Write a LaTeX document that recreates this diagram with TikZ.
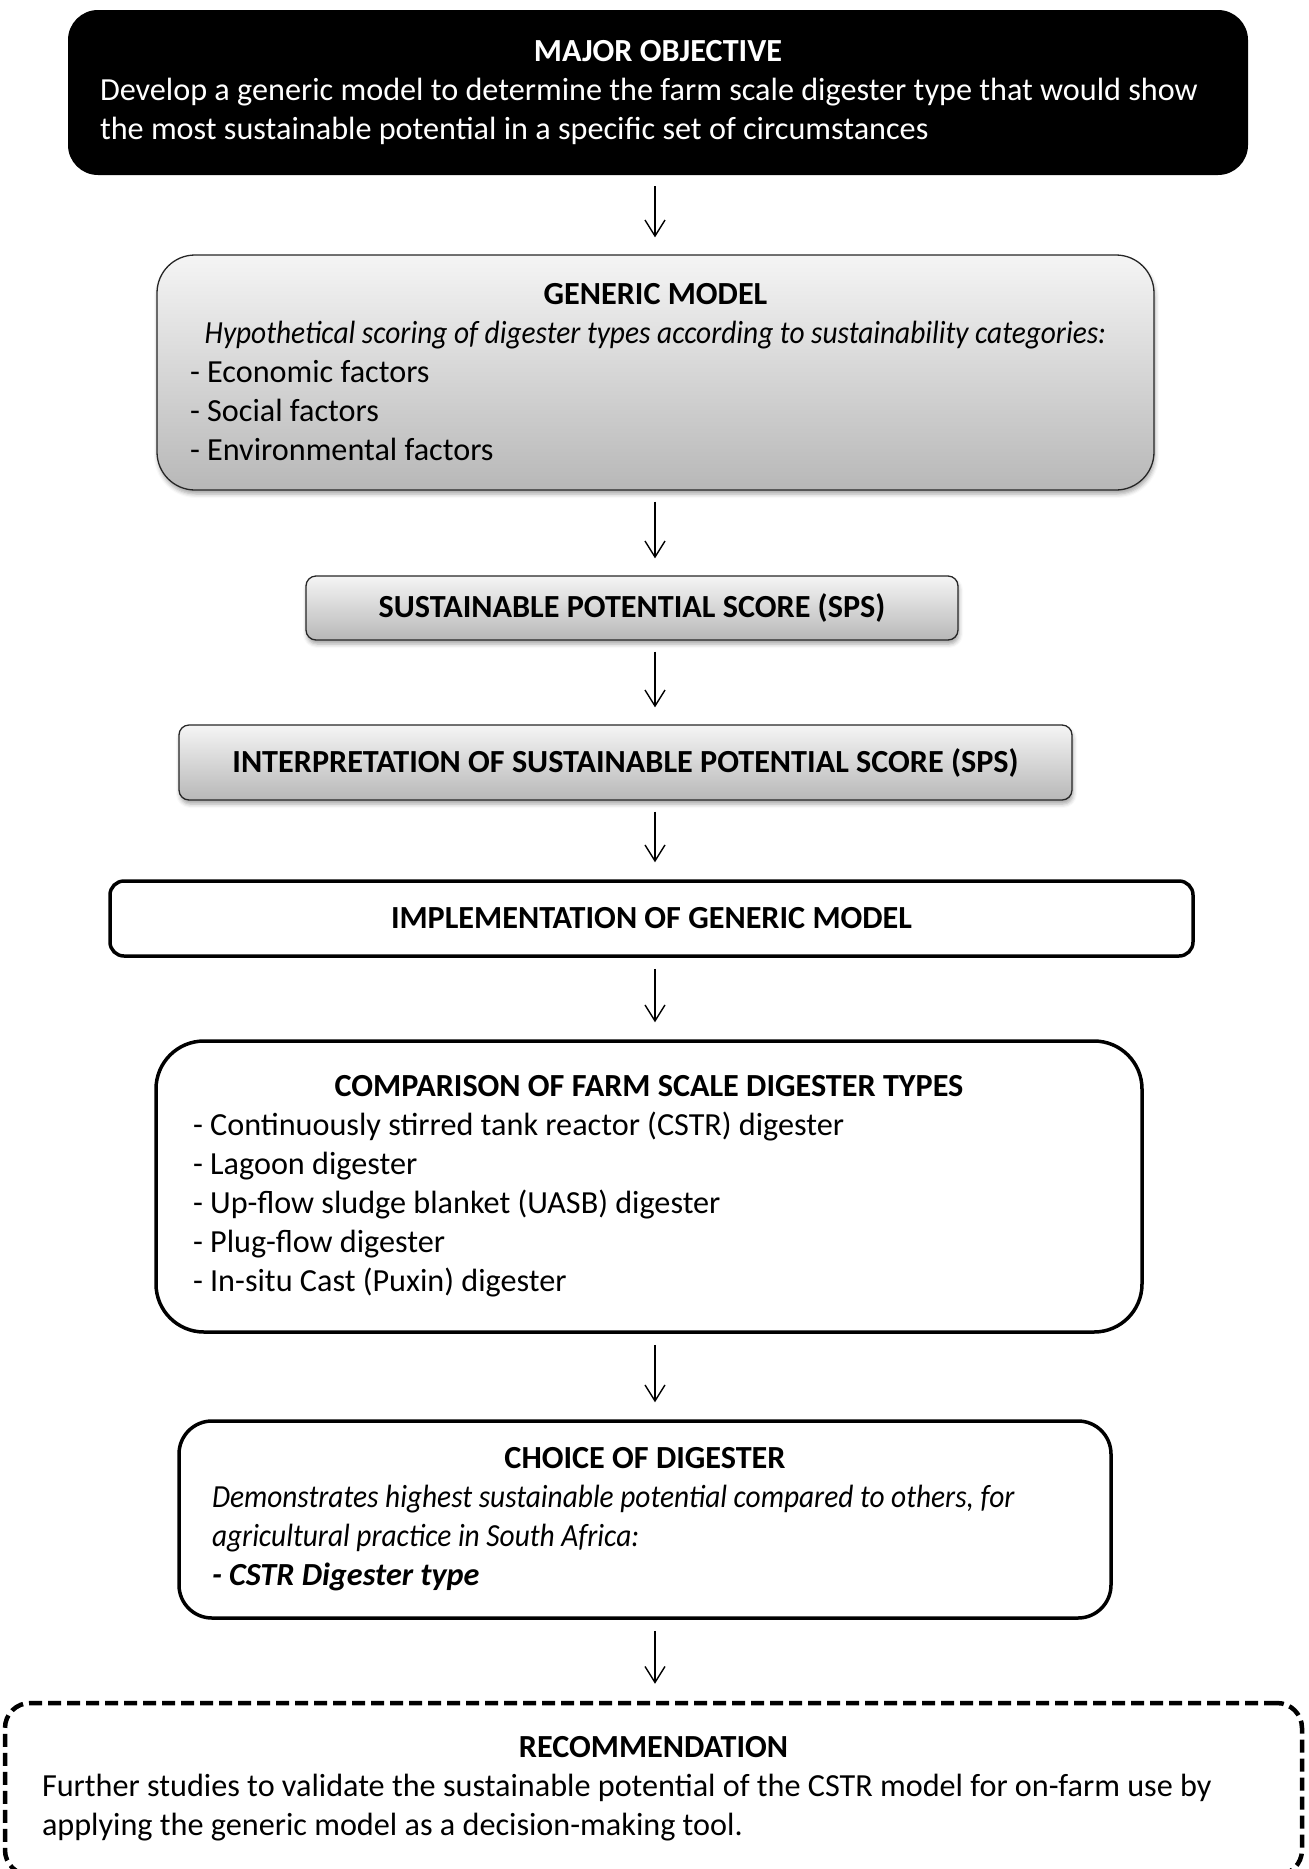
\documentclass[tikz,border=0pt]{standalone}
\usepackage{fontspec}
\setmainfont{Carlito}
\usepackage{graphicx}
\usepackage{tikz}
\usetikzlibrary{arrows.meta,shadows.blur}
\newcommand{\slant}[1]{\scalebox{0.912}[1]{\textit{#1}}}
\tikzstyle{every node} = [font=\fontsize{32.2}{39}\selectfont, inner ysep=0pt]
\tikzstyle{objective} = [fill=black, text=white, rectangle, rounded corners=30pt, inner xsep=32pt, minimum height=165pt]
\tikzstyle{graybox} = [draw=black!85, line width=1.3pt, top color=black!4, bottom color=black!28, rectangle, blur shadow={shadow xshift=1pt, shadow yshift=-4pt, shadow blur radius=4pt, shadow opacity=35}]
\tikzstyle{whitebox} = [draw=black, line width=3.5pt, fill=white, rectangle]
\tikzstyle{dashbox} = [draw=black, line width=4.5pt, dash pattern=on 13pt off 6pt, rectangle, rounded corners=25pt, inner xsep=37pt, minimum height=172pt]
\tikzstyle{flow} = [line width=1.4pt, -{Straight Barb[length=16pt, width=20pt, line width=1.4pt]}, shorten <=11pt, shorten >=17pt]

\begin{document}
\begin{tikzpicture}[x=1pt, y=-1pt]
	\useasboundingbox (0,0) rectangle (1309,1869);
	\coordinate (axis) at (655,0);
	\node[objective](obj) at (658,92.5){
		\begin{minipage}{1116pt}
			\centering\textbf{MAJOR OBJECTIVE}\par
			\raggedright Develop a generic model to determine the farm scale digester type that would show\\
			the most sustainable potential in a specific set of circumstances
		\end{minipage}};
	\node[graybox, rounded corners=38pt, inner xsep=33pt, minimum height=235pt](gen) at (655.5,372.5){
		\begin{minipage}{931pt}
			\centering\textbf{GENERIC MODEL}\\
			\makebox[\linewidth]{\slant{Hypothetical scoring of digester types according to sustainability categories:}}\par
			\raggedright - Economic factors\\
			- Social factors\\
			- Environmental factors
		\end{minipage}};
	\node[graybox, rounded corners=10pt, minimum width=652pt, minimum height=64pt](sps) at (632,608){\textbf{SUSTAINABLE POTENTIAL SCORE (SPS)}};
	\node[graybox, rounded corners=10pt, minimum width=893pt, minimum height=75pt](interp) at (625.5,762.5){\textbf{INTERPRETATION OF SUSTAINABLE POTENTIAL SCORE (SPS)}};
	\node[whitebox, rounded corners=14pt, minimum width=1083pt, minimum height=75pt](impl) at (651.5,918.5){\textbf{IMPLEMENTATION OF GENERIC MODEL}};
	\node[whitebox, rounded corners=48pt, inner xsep=37pt, minimum height=291pt](comp) at (649,1186.5){
		\begin{minipage}{912pt}
			\centering\textbf{COMPARISON OF FARM SCALE DIGESTER TYPES}\par
			\raggedright - Continuously stirred tank reactor (CSTR) digester\\
			- Lagoon digester\\
			- Up-flow sludge blanket (UASB) digester\\
			- Plug-flow digester\\
			- In-situ Cast (Puxin) digester
		\end{minipage}};
	\node[whitebox, rounded corners=33pt, inner xsep=33pt, minimum height=197pt](choice) at (645,1519.5){
		\begin{minipage}{866pt}
			\centering\textbf{CHOICE OF DIGESTER}\par
			\raggedright\slant{Demonstrates highest sustainable potential compared to others, for}\\
			\slant{agricultural practice in South Africa:}\\
			\textbf{\textit{- CSTR Digester type}}
		\end{minipage}};
	\node[dashbox](rec) at (653.5,1789){
		\begin{minipage}{1223pt}
			\centering\textbf{RECOMMENDATION}\par
			\raggedright Further studies to validate the sustainable potential of the CSTR model for on-farm use by\\
			applying the generic model as a decision-making tool.
		\end{minipage}};
	% arrows between the boxes
	\draw[flow] (obj.south -| axis) -- (gen.north -| axis);
	\draw[flow] (gen.south -| axis) -- (sps.north -| axis);
	\draw[flow] (sps.south -| axis) -- (interp.north -| axis);
	\draw[flow] (interp.south -| axis) -- (impl.north -| axis);
	\draw[flow] (impl.south -| axis) -- (comp.north -| axis);
	\draw[flow] (comp.south -| axis) -- (choice.north -| axis);
	\draw[flow] (choice.south -| axis) -- (rec.north -| axis);
\end{tikzpicture}
\end{document}
